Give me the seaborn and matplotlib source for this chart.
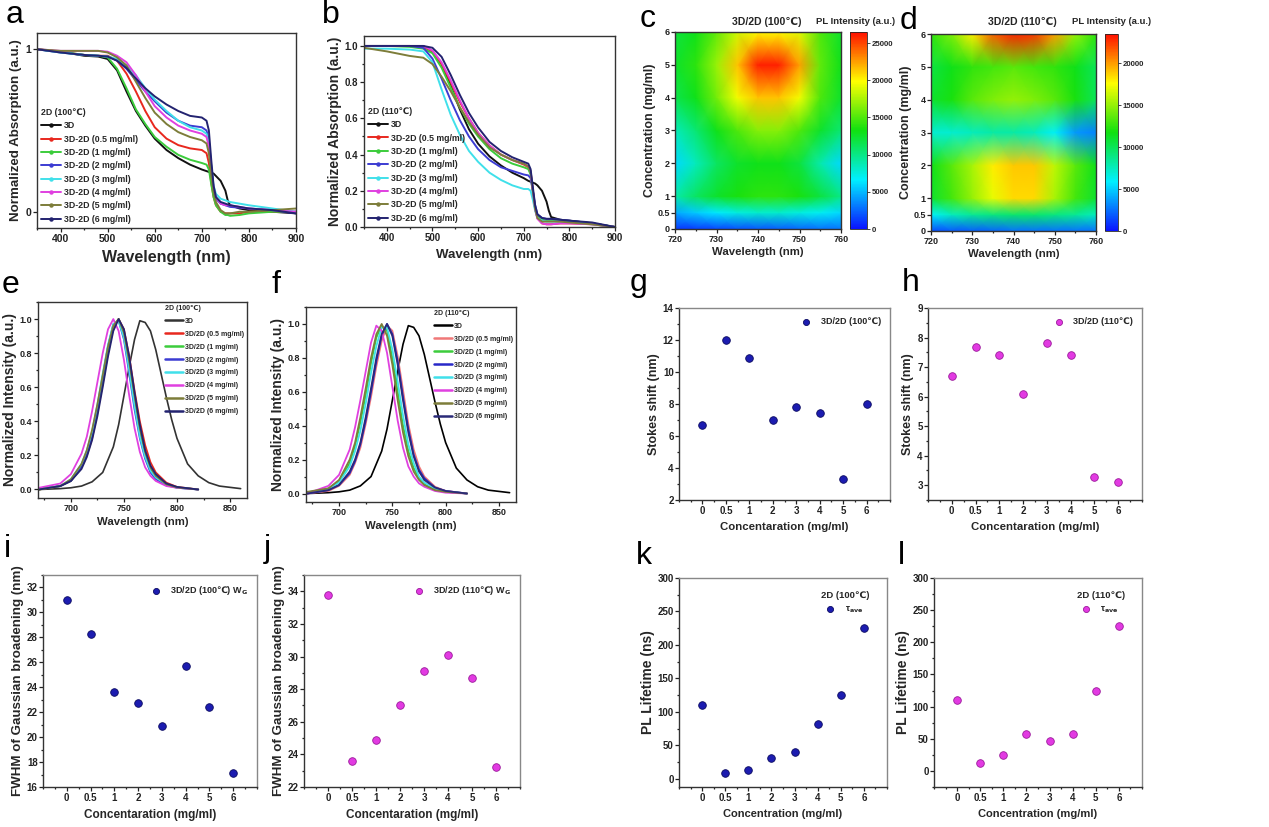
import numpy as np
import matplotlib
matplotlib.use("Agg")
import matplotlib.pyplot as plt
from matplotlib.colors import LinearSegmentedColormap
from matplotlib.lines import Line2D
from matplotlib.ticker import MultipleLocator
import seaborn as sns

sns.set_theme(style="white")
plt.rcParams['font.family'] = ['Liberation Sans', 'DejaVu Sans']
plt.rcParams['font.weight'] = 'bold'
plt.rcParams['axes.labelweight'] = 'bold'
plt.rcParams['mathtext.fontset'] = 'dejavusans'
plt.rcParams['mathtext.default'] = 'bf'

# ---------------- data ----------------
conc_labels = ["0", "0.5", "1", "2", "3", "4", "5", "6"]
series_a = ["3D", "3D-2D (0.5 mg/ml)", "3D-2D (1 mg/ml)", "3D-2D (2 mg/ml)",
            "3D-2D (3 mg/ml)", "3D-2D (4 mg/ml)", "3D-2D (5 mg/ml)", "3D-2D (6 mg/ml)"]
series_e = ["3D", "3D/2D (0.5 mg/ml)", "3D/2D (1 mg/ml)", "3D/2D (2 mg/ml)",
            "3D/2D (3 mg/ml)", "3D/2D (4 mg/ml)", "3D/2D (5 mg/ml)", "3D/2D (6 mg/ml)"]
colors_a = ["#111111", "#e8281e", "#3ccc3c", "#3c3cd2", "#40e0ea", "#e040e0", "#7d7d3a", "#232370"]
colors_f = ["#000000", "#f07878", "#3ccc3c", "#2828c8", "#40e0ea", "#e040e0", "#7d7d3a", "#2a2a78"]

# absorption spectra (panel a, 100 C and panel b, 110 C)
abs_wl = [350, 400, 450, 480, 500, 520, 540, 560, 580, 600, 625, 650, 675, 700, 710, 715,
          720, 725, 730, 740, 750, 755, 760, 780, 800, 850, 900]
abs_a_3d = [1.0, 0.985, 0.96, 0.955, 0.94, 0.87, 0.74, 0.62, 0.53, 0.45, 0.38, 0.33, 0.29, 0.26, 0.25, 0.245,
            0.24, 0.235, 0.22, 0.19, 0.13, 0.07, 0.04, 0.02, 0.01, 0.0, -0.01]
abs_a_05 = [1.0, 0.985, 0.965, 0.96, 0.96, 0.93, 0.85, 0.74, 0.62, 0.52, 0.45, 0.41, 0.39, 0.38, 0.36, 0.30,
            0.18, 0.09, 0.04, 0.0, -0.01, -0.01, -0.01, -0.01, 0.0, 0.0, 0.0]
abs_a_1 = [1.0, 0.985, 0.965, 0.96, 0.95, 0.88, 0.76, 0.63, 0.54, 0.46, 0.40, 0.35, 0.32, 0.30, 0.29, 0.26,
           0.17, 0.09, 0.04, 0.0, -0.02, -0.02, -0.025, -0.02, -0.01, 0.0, 0.0]
abs_a_2 = [1.0, 0.98, 0.965, 0.96, 0.955, 0.93, 0.88, 0.81, 0.74, 0.68, 0.61, 0.56, 0.53, 0.52, 0.50, 0.44,
           0.28, 0.14, 0.08, 0.05, 0.04, 0.035, 0.03, 0.025, 0.02, 0.01, -0.01]
abs_a_3 = [1.0, 0.98, 0.965, 0.96, 0.955, 0.94, 0.90, 0.84, 0.76, 0.69, 0.62, 0.56, 0.52, 0.50, 0.48, 0.42,
           0.28, 0.16, 0.11, 0.08, 0.07, 0.065, 0.06, 0.05, 0.04, 0.02, 0.0]
abs_a_4 = [1.0, 0.99, 0.99, 0.99, 0.985, 0.96, 0.92, 0.84, 0.74, 0.65, 0.58, 0.53, 0.50, 0.48, 0.46, 0.40,
           0.26, 0.15, 0.09, 0.05, 0.04, 0.04, 0.04, 0.03, 0.02, 0.01, 0.0]
abs_a_5 = [1.0, 0.99, 0.99, 0.99, 0.98, 0.95, 0.90, 0.80, 0.70, 0.61, 0.54, 0.49, 0.46, 0.44, 0.42, 0.36,
           0.22, 0.12, 0.06, 0.01, -0.01, -0.01, -0.01, 0.0, 0.0, 0.01, 0.02]
abs_a_6 = [1.0, 0.98, 0.965, 0.96, 0.955, 0.93, 0.885, 0.82, 0.76, 0.71, 0.66, 0.62, 0.59, 0.58, 0.56, 0.50,
           0.32, 0.16, 0.09, 0.06, 0.05, 0.045, 0.04, 0.03, 0.02, 0.01, -0.01]

abs_b_3d = [1.0, 1.0, 1.0, 1.0, 0.97, 0.90, 0.78, 0.65, 0.54, 0.46, 0.39, 0.34, 0.30, 0.27, 0.255, 0.25,
            0.245, 0.24, 0.23, 0.20, 0.14, 0.09, 0.055, 0.04, 0.035, 0.02, 0.0]
abs_b_05 = [1.0, 1.0, 1.0, 0.995, 0.97, 0.90, 0.80, 0.69, 0.60, 0.52, 0.45, 0.40, 0.37, 0.345, 0.33, 0.30,
            0.20, 0.10, 0.05, 0.02, 0.015, 0.015, 0.015, 0.02, 0.02, 0.015, 0.0]
abs_b_1 = [1.0, 1.0, 0.995, 0.985, 0.96, 0.88, 0.77, 0.66, 0.57, 0.50, 0.43, 0.38, 0.35, 0.33, 0.32, 0.29,
           0.19, 0.10, 0.06, 0.04, 0.035, 0.035, 0.035, 0.03, 0.03, 0.02, 0.0]
abs_b_2 = [1.0, 1.0, 1.0, 0.99, 0.93, 0.82, 0.70, 0.59, 0.50, 0.43, 0.37, 0.33, 0.31, 0.29, 0.285, 0.27,
           0.20, 0.12, 0.07, 0.05, 0.045, 0.045, 0.045, 0.04, 0.035, 0.02, 0.0]
abs_b_3 = [0.985, 0.985, 0.98, 0.97, 0.91, 0.76, 0.62, 0.51, 0.42, 0.36, 0.30, 0.26, 0.23, 0.21, 0.21, 0.20,
           0.15, 0.09, 0.05, 0.035, 0.03, 0.03, 0.03, 0.03, 0.025, 0.015, 0.0]
abs_b_4 = [1.0, 1.0, 1.0, 1.0, 0.975, 0.91, 0.81, 0.70, 0.60, 0.52, 0.45, 0.40, 0.37, 0.35, 0.335, 0.31,
           0.20, 0.10, 0.045, 0.02, 0.015, 0.015, 0.015, 0.02, 0.02, 0.015, 0.0]
abs_b_5 = [0.99, 0.97, 0.945, 0.935, 0.90, 0.83, 0.75, 0.66, 0.58, 0.51, 0.44, 0.40, 0.37, 0.35, 0.335, 0.31,
           0.20, 0.10, 0.05, 0.03, 0.03, 0.03, 0.03, 0.03, 0.025, 0.015, 0.0]
abs_b_6 = [1.0, 1.0, 1.0, 1.0, 0.99, 0.94, 0.84, 0.73, 0.63, 0.55, 0.47, 0.42, 0.385, 0.36, 0.35, 0.32,
           0.22, 0.12, 0.07, 0.05, 0.045, 0.045, 0.045, 0.04, 0.035, 0.025, 0.0]

# PL intensity maps (c: 100 C, d: 110 C)
map_wl = [720, 725, 730, 735, 740, 745, 750, 755, 760]
map_conc = [0, 0.5, 1, 2, 3, 4, 5, 6]
map_c = [
    [1000, 1200, 1500, 1800, 2000, 2200, 2500, 2800, 3000],
    [4500, 5500, 6500, 7500, 8000, 8000, 7500, 7000, 6000],
    [9000, 11000, 12500, 13500, 14000, 14000, 13500, 12000, 10000],
    [6000, 8500, 11000, 12500, 13000, 13000, 12000, 9000, 6000],
    [8500, 10500, 13000, 15000, 16500, 16500, 15000, 12500, 10500],
    [11500, 13000, 16000, 19500, 21500, 21500, 19500, 15000, 12500],
    [12500, 14000, 17000, 21500, 26000, 26000, 22500, 15500, 13000],
    [12000, 13000, 15500, 18500, 20000, 20000, 19000, 15000, 12500],
]
map_d = [
    [1500, 1800, 2000, 2200, 2500, 2500, 2500, 2500, 2500],
    [6000, 7500, 8500, 9000, 9500, 9500, 9000, 8500, 7500],
    [11000, 13000, 15000, 17000, 18500, 18500, 15500, 13000, 11000],
    [11500, 13500, 15500, 18000, 19000, 19000, 16000, 13500, 11500],
    [7000, 7000, 7500, 8000, 8000, 7500, 6000, 3500, 3000],
    [11000, 12000, 13500, 14500, 15000, 14500, 13500, 12000, 10000],
    [10500, 11500, 12500, 13000, 13500, 13000, 12500, 11500, 10000],
    [12500, 14500, 18000, 21500, 23000, 22500, 20000, 15000, 12500],
]

# normalized PL spectra (e: 100 C, f: 110 C)
pl3d_wl = [670, 690, 700, 710, 720, 730, 740, 745, 750, 755, 760, 765, 770, 775, 780, 785, 790, 795,
           800, 810, 820, 830, 840, 860]
pl3d = [0.0, 0.005, 0.01, 0.02, 0.045, 0.10, 0.25, 0.38, 0.55, 0.72, 0.88, 0.99, 0.98, 0.93, 0.82, 0.68,
        0.54, 0.41, 0.30, 0.15, 0.08, 0.04, 0.02, 0.005]
pl_wl = [670, 690, 700, 710, 715, 720, 725, 730, 735, 740, 745, 750, 755, 760, 765, 770, 775, 780, 790, 800, 820]
pl_e_05 = [0.0, 0.02, 0.05, 0.13, 0.20, 0.30, 0.45, 0.62, 0.80, 0.95, 1.0, 0.94, 0.78, 0.58, 0.40, 0.26, 0.16, 0.10, 0.04, 0.015, 0.0]
pl_e_1 = [0.0, 0.02, 0.05, 0.14, 0.21, 0.32, 0.47, 0.64, 0.82, 0.96, 1.0, 0.92, 0.74, 0.54, 0.35, 0.21, 0.12, 0.08, 0.03, 0.012, 0.0]
pl_e_2 = [0.005, 0.02, 0.05, 0.13, 0.21, 0.32, 0.48, 0.66, 0.84, 0.97, 0.99, 0.88, 0.68, 0.47, 0.30, 0.18, 0.10, 0.06, 0.025, 0.01, 0.0]
pl_e_3 = [0.005, 0.02, 0.06, 0.15, 0.23, 0.34, 0.50, 0.68, 0.85, 0.97, 0.99, 0.89, 0.70, 0.49, 0.31, 0.19, 0.11, 0.07, 0.03, 0.01, 0.0]
pl_e_4 = [0.01, 0.035, 0.09, 0.21, 0.31, 0.46, 0.63, 0.80, 0.94, 1.0, 0.93, 0.76, 0.55, 0.36, 0.22, 0.13, 0.08, 0.05, 0.02, 0.01, 0.0]
pl_e_5 = [0.0, 0.02, 0.06, 0.15, 0.23, 0.35, 0.50, 0.67, 0.84, 0.96, 1.0, 0.92, 0.75, 0.55, 0.36, 0.22, 0.13, 0.08, 0.03, 0.012, 0.0]
pl_e_6 = [0.0, 0.02, 0.05, 0.12, 0.19, 0.29, 0.43, 0.60, 0.78, 0.93, 1.0, 0.94, 0.78, 0.57, 0.38, 0.23, 0.14, 0.09, 0.035, 0.015, 0.0]

pl_f_05 = [0.0, 0.015, 0.045, 0.11, 0.18, 0.27, 0.41, 0.57, 0.75, 0.90, 0.99, 0.96, 0.81, 0.61, 0.41, 0.26, 0.16, 0.10, 0.04, 0.015, 0.0]
pl_f_1 = [0.005, 0.03, 0.07, 0.18, 0.28, 0.42, 0.58, 0.77, 0.92, 0.99, 0.96, 0.80, 0.60, 0.40, 0.25, 0.15, 0.09, 0.055, 0.022, 0.01, 0.0]
pl_f_2 = [0.0, 0.02, 0.05, 0.12, 0.19, 0.29, 0.43, 0.60, 0.78, 0.93, 1.0, 0.94, 0.78, 0.57, 0.38, 0.23, 0.14, 0.09, 0.035, 0.015, 0.0]
pl_f_3 = [0.005, 0.025, 0.065, 0.16, 0.25, 0.37, 0.53, 0.71, 0.87, 0.98, 0.98, 0.85, 0.66, 0.46, 0.29, 0.18, 0.10, 0.065, 0.028, 0.012, 0.0]
pl_f_4 = [0.0, 0.045, 0.11, 0.26, 0.39, 0.55, 0.72, 0.89, 0.99, 0.96, 0.83, 0.63, 0.43, 0.27, 0.16, 0.10, 0.06, 0.04, 0.015, 0.005, 0.0]
pl_f_5 = [0.01, 0.03, 0.08, 0.20, 0.30, 0.45, 0.62, 0.80, 0.94, 1.0, 0.93, 0.76, 0.55, 0.36, 0.22, 0.13, 0.08, 0.05, 0.02, 0.01, 0.0]
pl_f_6 = [0.0, 0.02, 0.05, 0.13, 0.20, 0.30, 0.45, 0.62, 0.80, 0.94, 1.0, 0.93, 0.76, 0.55, 0.36, 0.22, 0.13, 0.08, 0.035, 0.015, 0.0]

# scatter panels
stokes_100 = [6.7, 12.0, 10.9, 7.0, 7.8, 7.45, 3.3, 8.0]
stokes_110 = [6.7, 7.68, 7.42, 6.1, 7.8, 7.42, 3.27, 3.12]
fwhm_100 = [31.0, 28.3, 23.6, 22.7, 20.9, 25.7, 22.4, 17.1]
fwhm_110 = [33.8, 23.6, 24.9, 27.0, 29.1, 30.1, 28.7, 23.2]
tau_100 = [110, 9, 14, 31, 40, 82, 125, 225]
tau_110 = [110, 12, 24, 58, 47, 58, 124, 225]

# ---------------- figure ----------------
W, H = 1269, 827
fig = plt.figure(figsize=(W / 100, H / 100), dpi=100)


def add_ax(l, t, r, b):
    return fig.add_axes([l / W, 1 - b / H, (r - l) / W, (b - t) / H])


def style(ax, tsize=7):
    for s in ax.spines.values():
        s.set_visible(True)
        s.set_color("#333333")
        s.set_linewidth(1.0)
    ax.tick_params(which="both", direction="out", colors="#222222", width=0.9, pad=1.5,
                   labelsize=tsize, bottom=True, left=True, top=False, right=False)
    ax.tick_params(which="major", length=2.8)
    ax.tick_params(which="minor", length=1.6)
    for lab in ax.get_xticklabels() + ax.get_yticklabels():
        lab.set_fontweight("bold")


def letter(x, y, s):
    fig.text(x / W, 1 - y / H, s, fontsize=23, fontweight="normal", va="top", ha="left", color="black")


# ---- a, b absorption ----
def absorption(ax, curves, title, xl_size, yl_size, yticks, ytl, ylim):
    for vals, c in zip(curves, colors_a):
        sns.lineplot(x=abs_wl, y=vals, color=c, lw=1.4, ax=ax, legend=False)
    ax.set_xlim(350, 900)
    ax.set_ylim(*ylim)
    ax.set_xticks([400, 500, 600, 700, 800, 900])
    ax.xaxis.set_minor_locator(MultipleLocator(50))
    ax.set_yticks(yticks, ytl)
    ax.set_xlabel("Wavelength (nm)", fontsize=xl_size, fontweight="bold", labelpad=4)
    ax.set_ylabel("Normalized Absorption (a.u.)", fontsize=yl_size, fontweight="bold", labelpad=2)
    handles = [Line2D([], [], color=c, lw=1.4, marker="o", ms=2.2) for c in colors_a]
    leg = ax.legend(handles, series_a, loc="lower left", bbox_to_anchor=(-0.01, -0.01), frameon=False,
                    title=title, alignment="left", fontsize=6.3, handlelength=2.3, handletextpad=0.4,
                    labelspacing=0.5, borderpad=0.2,
                    title_fontproperties={"weight": "bold", "size": 6.3})
    for t in leg.get_texts():
        t.set_fontweight("bold")


ax_a = add_ax(37, 33, 296, 228)
absorption(ax_a, [abs_a_3d, abs_a_05, abs_a_1, abs_a_2, abs_a_3, abs_a_4, abs_a_5, abs_a_6],
           "2D (100\u2103)", 11.5, 9.6, [0, 1], ["0", "1"], (-0.1, 1.1))
style(ax_a, 7.5)

ax_b = add_ax(364, 36, 615, 227)
absorption(ax_b, [abs_b_3d, abs_b_05, abs_b_1, abs_b_2, abs_b_3, abs_b_4, abs_b_5, abs_b_6],
           "2D (110\u2103)", 9.5, 10, [0, 0.2, 0.4, 0.6, 0.8, 1.0],
           ["0.0", "0.2", "0.4", "0.6", "0.8", "1.0"], (0, 1.055))
ax_b.yaxis.set_minor_locator(MultipleLocator(0.1))
style(ax_b, 7)

# ---- c, d PL maps ----
cmap = LinearSegmentedColormap.from_list("origin_rainbow",
                                         ["#0a14ff", "#00f0ff", "#10e010", "#ffff00", "#ff1000"])


def pl_map(ax, cax, z, vmax, cticks, title, tx, lx):
    X, Y = np.meshgrid(map_wl, map_conc)
    m = ax.pcolormesh(X, Y, np.array(z), shading="gouraud", cmap=cmap, vmin=0, vmax=vmax)
    ax.set_xlim(720, 760)
    ax.set_ylim(0, 6)
    ax.set_xticks([720, 730, 740, 750, 760])
    ax.xaxis.set_minor_locator(MultipleLocator(5))
    ax.set_yticks(map_conc, ["0", "0.5", "1", "2", "3", "4", "5", "6"])
    ax.set_xlabel("Wavelength (nm)", fontsize=8.2, fontweight="bold", labelpad=2)
    ax.set_ylabel("Concentration (mg/ml)", fontsize=9, fontweight="bold", labelpad=1)
    style(ax, 6.5)
    ax.tick_params(axis="y", pad=1)
    cb = fig.colorbar(m, cax=cax)
    cb.set_ticks(cticks)
    cb.outline.set_linewidth(0.6)
    cax.tick_params(labelsize=5.6, length=2, width=0.6, direction="out", pad=1.5)
    for lab in cax.get_yticklabels():
        lab.set_fontweight("bold")
    fig.text(tx / W, 1 - 22 / H, title, fontsize=7.6, fontweight="bold", ha="center", va="center")
    fig.text(lx / W, 1 - 22 / H, "PL Intensity (a.u.)", fontsize=6.8, fontweight="bold", ha="center", va="center")


ax_c = add_ax(675, 32, 841, 229)
cax_c = add_ax(850, 32, 867, 229)
pl_map(ax_c, cax_c, map_c, 26500, [0, 5000, 10000, 15000, 20000, 25000], "3D/2D (100\u2103)", 767, 856)

ax_d = add_ax(931, 34, 1096, 231)
cax_d = add_ax(1105, 34, 1118, 231)
pl_map(ax_d, cax_d, map_d, 23500, [0, 5000, 10000, 15000, 20000], "3D/2D (110\u2103)", 1022, 1112)


# ---- e, f PL spectra ----
def pl_spec(ax, curves, cols, title):
    sns.lineplot(x=pl3d_wl, y=pl3d, color=cols[0], lw=1.2, ax=ax, legend=False)
    for vals, c in zip(curves, cols[1:]):
        sns.lineplot(x=pl_wl, y=vals, color=c, lw=1.3, ax=ax, legend=False)
    ax.set_xlim(669, 866)
    ax.set_ylim(-0.05, 1.1)
    ax.set_xticks([700, 750, 800, 850])
    ax.xaxis.set_minor_locator(MultipleLocator(25))
    ax.set_yticks([0, 0.2, 0.4, 0.6, 0.8, 1.0], ["0.0", "0.2", "0.4", "0.6", "0.8", "1.0"])
    ax.yaxis.set_minor_locator(MultipleLocator(0.1))
    ax.set_xlabel("Wavelength (nm)", fontsize=8.2, fontweight="bold", labelpad=3)
    ax.set_ylabel("Normalized Intensity (a.u.)", fontsize=10, fontweight="bold", labelpad=2)
    handles = [Line2D([], [], color=c, lw=1.8) for c in cols]
    leg = ax.legend(handles, series_e, loc="upper right", bbox_to_anchor=(1.01, 1.01), frameon=False,
                    title=title, alignment="left", fontsize=5, handlelength=2.6, handletextpad=0.3,
                    labelspacing=0.85, borderpad=0.2,
                    title_fontproperties={"weight": "bold", "size": 5})
    for t in leg.get_texts():
        t.set_fontweight("bold")
    style(ax, 6.5)


ax_e = add_ax(38, 302, 247, 498)
pl_spec(ax_e, [pl_e_05, pl_e_1, pl_e_2, pl_e_3, pl_e_4, pl_e_5, pl_e_6],
        ["#333333"] + colors_a[1:], "2D (100\u2103)")
ax_f = add_ax(306, 307, 516, 502)
pl_spec(ax_f, [pl_f_05, pl_f_1, pl_f_2, pl_f_3, pl_f_4, pl_f_5, pl_f_6], colors_f, "2D (110\u2103)")

# ---- g-l scatter ----
pos = np.arange(len(conc_labels))
blue_pt, blue_edge = "#1c1cb0", "#0a0a60"
mag_pt, mag_edge = "#e23ae2", "#9a1a9a"


def dots(ax, vals, col, edge, label, ylim, major, minor, ylabel, xlabel, yl_size, xl_size, leg_title=None):
    sns.scatterplot(x=pos, y=vals, color=col, edgecolor=edge, linewidth=0.6, s=30, ax=ax,
                    label=label, zorder=3)
    ax.set_xlim(-1, 8)
    ax.set_ylim(*ylim)
    ax.set_xticks(pos, conc_labels)
    ax.xaxis.set_minor_locator(MultipleLocator(0.5))
    ax.yaxis.set_major_locator(MultipleLocator(major))
    ax.yaxis.set_minor_locator(MultipleLocator(minor))
    ax.set_xlabel(xlabel, fontsize=xl_size, fontweight="bold", labelpad=4)
    ax.set_ylabel(ylabel, fontsize=yl_size, fontweight="bold", labelpad=2)
    kw = dict(loc="upper right", frameon=False, fontsize=6.5, handletextpad=0.6, borderpad=0.5,
              markerscale=0.8)
    if leg_title:
        kw.update(title=leg_title, alignment="left", title_fontproperties={"weight": "bold", "size": 6.8},
                  bbox_to_anchor=(0.96, 0.98))
    leg = ax.legend(**kw)
    for t in leg.get_texts():
        t.set_fontweight("bold")
    style(ax, 7)
    ax.tick_params(axis="y", pad=1)
    ax.spines["top"].set_color("#888888")
    ax.spines["right"].set_color("#888888")


ax_g = add_ax(679, 308, 890, 500)
dots(ax_g, stokes_100, blue_pt, blue_edge, "3D/2D (100\u2103)", (2, 14), 2, 1,
     "Stokes shift (nm)", "Concentaration (mg/ml)", 9, 8.2)
ax_h = add_ax(928, 308, 1142, 500)
dots(ax_h, stokes_110, mag_pt, mag_edge, "3D/2D (110\u2103)", (2.5, 9), 1, 0.5,
     "Stokes shift (nm)", "Concentaration (mg/ml)", 9, 8.2)

ax_i = add_ax(43, 575, 257, 787)
dots(ax_i, fwhm_100, blue_pt, blue_edge, "3D/2D (100$\u2103$) W$_G$", (16, 33), 2, 1,
     "FWHM of Gaussian broadening (nm)", "Concentaration (mg/ml)", 9.6, 8.5)
ax_j = add_ax(304, 575, 520, 787)
dots(ax_j, fwhm_110, mag_pt, mag_edge, "3D/2D (110$\u2103$) W$_G$", (22, 35), 2, 1,
     "FWHM of Gaussian broadening (nm)", "Concentaration (mg/ml)", 9.6, 8.5)

ax_k = add_ax(679, 578, 887, 787)
dots(ax_k, tau_100, blue_pt, blue_edge, "\u03c4$_{ave}$", (-12, 300), 50, 25,
     "PL Lifetime (ns)", "Concentration (mg/ml)", 10, 8, leg_title="2D (100\u2103)")
ax_l = add_ax(934, 578, 1142, 787)
dots(ax_l, tau_110, mag_pt, mag_edge, "\u03c4$_{ave}$", (-25, 300), 50, 25,
     "PL Lifetime (ns)", "Concentration (mg/ml)", 10, 8, leg_title="2D (110\u2103)")

# panel letters
for x, y, s in [(6, 0, "a"), (322, 0, "b"), (640, 4, "c"), (900, 6, "d"),
                (2, 270, "e"), (272, 270, "f"), (630, 268, "g"), (902, 268, "h"),
                (4, 534, "i"), (264, 534, "j"), (636, 541, "k"), (898, 541, "l")]:
    letter(x, y, s)

fig.savefig("out.png", dpi=100, facecolor="white")
